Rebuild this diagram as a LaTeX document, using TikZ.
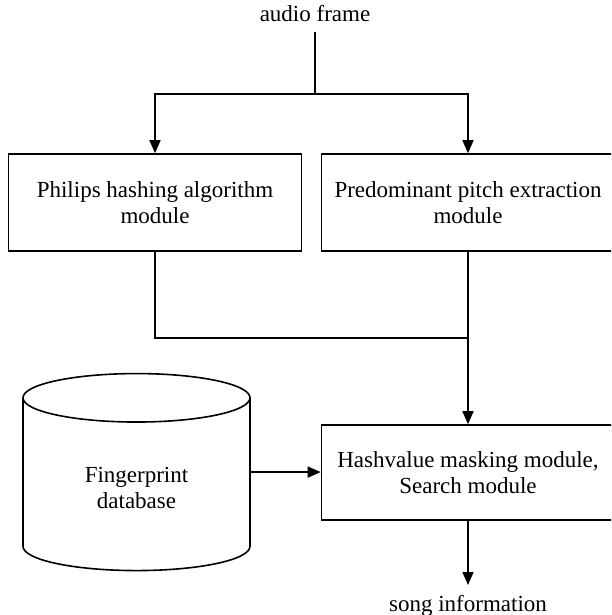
\documentclass[tikz,border=0pt]{standalone}
\usepackage{fontspec}
\setmainfont{Liberation Serif}
\usepackage{tikz}
\usetikzlibrary{shapes.geometric}
\usetikzlibrary{arrows.meta}
\tikzstyle{every node}=[font=\fontsize{23}{26}\selectfont]
\tikzstyle{module}=[draw=black,line width=1.6pt,align=center,minimum width=293pt,minimum height=97pt,inner sep=0pt]
\tikzstyle{store}=[draw=black,line width=1.6pt,align=center,cylinder,shape border rotate=90,aspect=0.44,minimum width=227pt,minimum height=197pt]
\tikzstyle{io}=[inner sep=10pt]
\tikzstyle{wire}=[line width=1.6pt]
\tikzstyle{flow}=[wire,-{Triangle[length=13pt,width=11pt]}]

\begin{document}
\begin{tikzpicture}[x=1pt,y=-1pt]
  \useasboundingbox (0,0) rectangle (611,615);
  \clip (0,0) rectangle (611,615);
  \node[io,anchor=base] (audio) at (315,22) {audio frame};
  \coordinate (split) at (315,94);
  \node[module] (philips) at (155,202.5) {Philips hashing algorithm\\module};
  \node[module] (pitch) at (468,202.5) {Predominant pitch extraction\\module};
  \coordinate (merge) at (468,338);
  \node[module,minimum height=95pt] (search) at (468,472.5) {Hashvalue masking module,\\Search module};
  \node[store] (db) at (136.5,487.5) {Fingerprint\\database};
  \node[io,anchor=north] (song) at (468,585) {song information};
  % connectors
  \draw[wire] (audio.south) -- (split);
  \draw[flow] (split) -| (philips.north);
  \draw[flow] (split) -| (pitch.north);
  \draw[wire] (philips.south) |- (merge);
  \draw[flow] (pitch.south) -- (search.north);
  \draw[flow] (db.shape center -| db.east) -- (db.shape center -| search.west);
  \draw[flow] (search.south) -- (song.north);
\end{tikzpicture}
\end{document}
